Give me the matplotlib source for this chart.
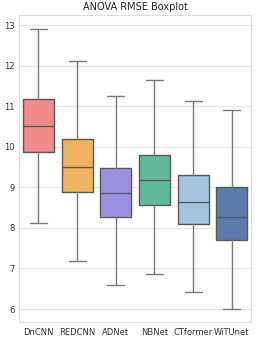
import matplotlib as mpl
mpl.use("Agg")

import matplotlib.pyplot as plt
import seaborn as sns

sns.set_style("whitegrid")

# Box statistics
models = ["DnCNN", "REDCNN", "ADNet", "NBNet", "CTformer", "WiTUnet"]
whislo = [8.13, 7.18, 6.60, 6.86, 6.42, 6.00]
q1 = [9.86, 8.89, 8.28, 8.56, 8.09, 7.69]
med = [10.50, 9.50, 8.87, 9.19, 8.63, 8.27]
q3 = [11.18, 10.18, 9.48, 9.80, 9.31, 9.01]
whishi = [12.90, 12.12, 11.26, 11.64, 11.12, 10.90]
colors = ["#f28a8c", "#eeb35e", "#9a92e0", "#60b99a", "#a3c2db", "#5b7bad"]

stats = []
for i, name in enumerate(models):
    stats.append(dict(label=name, whislo=whislo[i], q1=q1[i], med=med[i],
                      q3=q3[i], whishi=whishi[i], fliers=[]))

fig = plt.figure(figsize=(2.57, 3.40), dpi=100)
ax = fig.add_axes([0.074, 0.053, 0.903, 0.903])

edge = "#5a5a5a"
bp = ax.bxp(stats, positions=range(len(models)), widths=0.8,
            patch_artist=True, showfliers=False,
            boxprops=dict(edgecolor=edge, linewidth=1.0),
            medianprops=dict(color=edge, linewidth=1.0),
            whiskerprops=dict(color="#7a7a7a", linewidth=1.0),
            capprops=dict(color="#7a7a7a", linewidth=1.0),
            capwidths=0.44)
for patch, c in zip(bp["boxes"], colors):
    patch.set_facecolor(c)

ax.set_xlim(-0.5, len(models) - 0.5)
ax.set_ylim(5.68, 13.25)
ax.set_yticks([6, 7, 8, 9, 10, 11, 12, 13])
ax.tick_params(labelsize=6, length=0, colors="#333333")
ax.tick_params(axis="x", pad=4.5)
ax.tick_params(axis="y", pad=3)
ax.grid(axis="x", visible=False)
ax.grid(axis="y", color="#e6e6e6", linewidth=0.8)
for s in ax.spines.values():
    s.set_color("#dddddd")
    s.set_linewidth(0.8)
ax.set_title("ANOVA RMSE Boxplot", fontsize=7, pad=3.5)

fig.savefig("out.png", dpi=100)
